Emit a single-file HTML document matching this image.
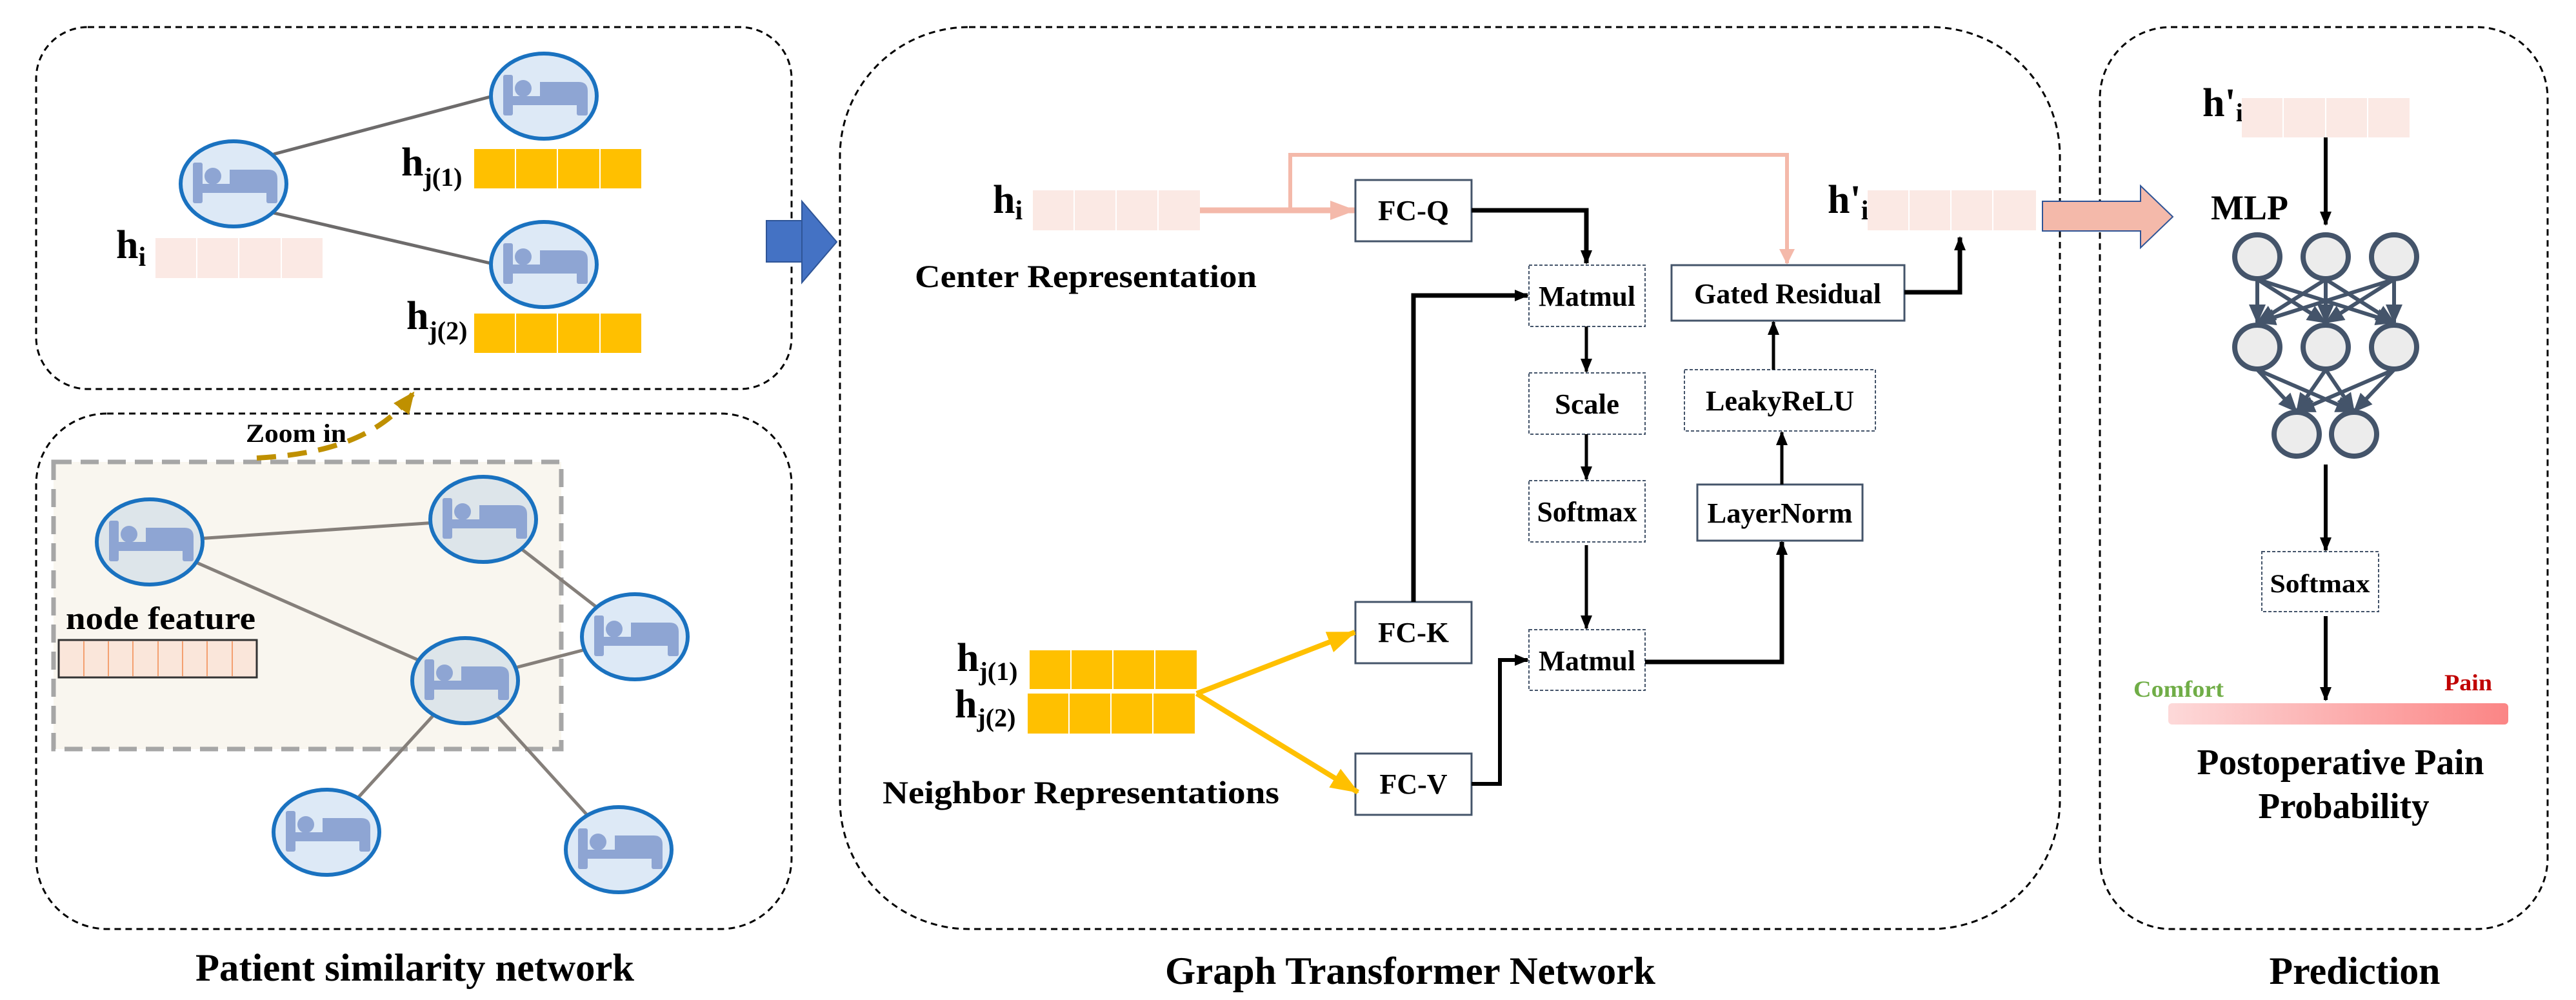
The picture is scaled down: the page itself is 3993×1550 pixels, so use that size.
<!DOCTYPE html>
<html><head><meta charset="utf-8"><style>
html,body{margin:0;padding:0;background:#fff}
svg{display:block}
text{font-family:"Liberation Serif",serif;font-weight:bold;fill:#000}
</style></head><body>
<svg width="3993" height="1550" viewBox="0 0 3993 1550" xmlns="http://www.w3.org/2000/svg">
<defs>
<g id="node">
<ellipse cx="0" cy="0" rx="82" ry="66" fill="#dde9f6" stroke="#1a72c0" stroke-width="6"/>
<g fill="#8ea5d3">
<rect x="-63" y="-33" width="15" height="63" rx="3"/>
<circle cx="-32" cy="-12" r="13"/>
<path d="M-6,-22 H54 Q68,-22 68,-8 V0 H-6 Z"/>
<rect x="-48" y="0" width="116" height="14"/>
<rect x="51" y="0" width="17" height="30" rx="3"/>
</g>
</g>
<g id="gnode">
<ellipse cx="0" cy="0" rx="82" ry="66" fill="#dde5ea" stroke="#1a72c0" stroke-width="6"/>
<g fill="#8ea5d3">
<rect x="-63" y="-33" width="15" height="63" rx="3"/>
<circle cx="-32" cy="-12" r="13"/>
<path d="M-6,-22 H54 Q68,-22 68,-8 V0 H-6 Z"/>
<rect x="-48" y="0" width="116" height="14"/>
<rect x="51" y="0" width="17" height="30" rx="3"/>
</g>
</g>
<marker id="abk" markerWidth="22" markerHeight="22" refX="20" refY="11" orient="auto" markerUnits="userSpaceOnUse"><path d="M0,2 L22,11 L0,20 Z" fill="#000"/></marker>
<marker id="apk" markerWidth="40" markerHeight="30" refX="38" refY="15" orient="auto" markerUnits="userSpaceOnUse"><path d="M0,0 L40,15 L0,30 Z" fill="#f4b9aa"/></marker>
<marker id="apk2" markerWidth="24" markerHeight="30" refX="22" refY="12" orient="auto" markerUnits="userSpaceOnUse"><path d="M0,0 L24,12 L0,24 Z" fill="#f4b9aa"/></marker>
<marker id="ayl" markerWidth="44" markerHeight="34" refX="42" refY="17" orient="auto" markerUnits="userSpaceOnUse"><path d="M0,0 L44,17 L0,34 Z" fill="#ffc000"/></marker>
<marker id="agd" markerWidth="34" markerHeight="30" refX="30" refY="15" orient="auto" markerUnits="userSpaceOnUse"><path d="M0,0 L34,15 L0,30 Z" fill="#bf9000"/></marker>
<marker id="anet" markerWidth="30" markerHeight="26" refX="28" refY="13" orient="auto" markerUnits="userSpaceOnUse"><path d="M0,0 L30,13 L0,26 Z" fill="#44546a"/></marker>
<linearGradient id="pg" x1="0" x2="1"><stop offset="0" stop-color="#fdd9d9"/><stop offset="1" stop-color="#fb8585"/></linearGradient>
</defs>

<!-- LEFT PANEL -->
<rect x="56" y="42" width="1171" height="561" rx="80" fill="none" stroke="#000" stroke-width="3" stroke-dasharray="10,7"/>
<rect x="56" y="641" width="1171" height="799" rx="110" fill="none" stroke="#000" stroke-width="3" stroke-dasharray="10,7"/>
<line x1="424" y1="239" x2="760" y2="150" stroke="#6d6b6b" stroke-width="5"/>
<line x1="424" y1="330" x2="760" y2="408" stroke="#6d6b6b" stroke-width="5"/>
<use href="#node" x="362" y="285"/>
<use href="#node" x="843" y="149"/>
<use href="#node" x="843" y="410"/>
<text x="180" y="400" font-size="62">h<tspan font-size="42" dy="12">i</tspan></text>
<g fill="#fbe9e4"><rect x="241" y="369" width="63" height="62"/><rect x="306" y="369" width="63" height="62"/><rect x="371" y="369" width="64" height="62"/><rect x="437" y="369" width="63" height="62"/></g>
<text x="622" y="272" font-size="62">h<tspan font-size="40" dy="16">j(1)</tspan></text>
<g fill="#ffc000"><rect x="735" y="231" width="63" height="61"/><rect x="800" y="231" width="63" height="61"/><rect x="865" y="231" width="64" height="61"/><rect x="931" y="231" width="63" height="61"/></g>
<text x="630" y="510" font-size="62">h<tspan font-size="40" dy="16">j(2)</tspan></text>
<g fill="#ffc000"><rect x="735" y="486" width="63" height="61"/><rect x="800" y="486" width="63" height="61"/><rect x="865" y="486" width="64" height="61"/><rect x="931" y="486" width="63" height="61"/></g>
<rect x="1188" y="342" width="55" height="64" fill="#4472c4" stroke="#2f5597" stroke-width="2"/>
<path d="M1243,312 L1297,375 L1243,438 Z" fill="#4472c4" stroke="#2f5597" stroke-width="2"/>

<rect x="83" y="716" width="787" height="445" fill="#f9f6ef" stroke="#a6a6a6" stroke-width="7" stroke-dasharray="28,14"/>
<g stroke="#857f7a" stroke-width="5">
<line x1="232" y1="840" x2="749" y2="805"/>
<line x1="232" y1="840" x2="721" y2="1055"/>
<line x1="749" y1="805" x2="984" y2="987"/>
<line x1="984" y1="987" x2="721" y2="1055"/>
<line x1="721" y1="1055" x2="506" y2="1290"/>
<line x1="721" y1="1055" x2="959" y2="1317"/>
</g>
<use href="#gnode" x="232" y="840"/>
<use href="#gnode" x="749" y="805"/>
<use href="#node" x="984" y="987"/>
<use href="#gnode" x="721" y="1055"/>
<use href="#node" x="506" y="1290"/>
<use href="#node" x="959" y="1317"/>
<text x="102" y="975" font-size="50" fill="#222" textLength="294" lengthAdjust="spacingAndGlyphs">node feature</text>
<rect x="91" y="992" width="307" height="58" fill="#fae6da" stroke="#333" stroke-width="3"/>
<g stroke="#f4a070" stroke-width="2"><line x1="130" y1="994" x2="130" y2="1048"/><line x1="168" y1="994" x2="168" y2="1048"/><line x1="206" y1="994" x2="206" y2="1048"/><line x1="245" y1="994" x2="245" y2="1048"/><line x1="283" y1="994" x2="283" y2="1048"/><line x1="321" y1="994" x2="321" y2="1048"/><line x1="360" y1="994" x2="360" y2="1048"/></g>
<text x="381" y="685" font-size="40" fill="#222" textLength="156" lengthAdjust="spacingAndGlyphs">Zoom in</text>
<path d="M398,710 C480,705 580,690 640,610" fill="none" stroke="#bf9000" stroke-width="8" stroke-dasharray="30,18" marker-end="url(#agd)"/>
<text x="643" y="1520" font-size="60" text-anchor="middle" textLength="680" lengthAdjust="spacingAndGlyphs">Patient similarity network</text>

<!-- MIDDLE PANEL -->
<rect x="1302" y="42" width="1891" height="1398" rx="200" fill="none" stroke="#000" stroke-width="3" stroke-dasharray="10,7"/>
<text x="1539" y="330" font-size="62">h<tspan font-size="42" dy="10">i</tspan></text>
<g fill="#fbe9e4"><rect x="1601" y="295" width="63" height="62"/><rect x="1666" y="295" width="63" height="62"/><rect x="1731" y="295" width="63" height="62"/><rect x="1796" y="295" width="64" height="62"/></g>
<text x="1418" y="445" font-size="50" textLength="530" lengthAdjust="spacingAndGlyphs">Center Representation</text>
<text x="2833" y="330" font-size="62">h'<tspan font-size="42" dy="10">i</tspan></text>
<g fill="#fbe9e4"><rect x="2895" y="295" width="63" height="62"/><rect x="2960" y="295" width="63" height="62"/><rect x="3025" y="295" width="63" height="62"/><rect x="3090" y="295" width="66" height="62"/></g>

<line x1="1860" y1="326" x2="2100" y2="326" stroke="#f4b9aa" stroke-width="9" marker-end="url(#apk)"/>
<polyline points="2000,326 2000,240 2770,240 2770,408" fill="none" stroke="#f4b9aa" stroke-width="6" marker-end="url(#apk2)"/>

<g font-size="44" text-anchor="middle">
<rect x="2101" y="279" width="180" height="95" fill="#fff" stroke="#44546a" stroke-width="3"/>
<text x="2191" y="341" textLength="110" lengthAdjust="spacingAndGlyphs">FC-Q</text>
<rect x="2101" y="933" width="180" height="95" fill="#fff" stroke="#44546a" stroke-width="3"/>
<text x="2191" y="995" textLength="110" lengthAdjust="spacingAndGlyphs">FC-K</text>
<rect x="2101" y="1168" width="180" height="95" fill="#fff" stroke="#44546a" stroke-width="3"/>
<text x="2191" y="1230" textLength="105" lengthAdjust="spacingAndGlyphs">FC-V</text>
<rect x="2370" y="411" width="180" height="95" fill="#fff" stroke="#44546a" stroke-width="2" stroke-dasharray="5,3"/>
<text x="2460" y="474" textLength="150" lengthAdjust="spacingAndGlyphs">Matmul</text>
<rect x="2370" y="578" width="180" height="95" fill="#fff" stroke="#44546a" stroke-width="2" stroke-dasharray="5,3"/>
<text x="2460" y="641" textLength="100" lengthAdjust="spacingAndGlyphs">Scale</text>
<rect x="2370" y="745" width="180" height="95" fill="#fff" stroke="#44546a" stroke-width="2" stroke-dasharray="5,3"/>
<text x="2460" y="808" textLength="155" lengthAdjust="spacingAndGlyphs">Softmax</text>
<rect x="2370" y="976" width="180" height="94" fill="#fff" stroke="#44546a" stroke-width="2" stroke-dasharray="5,3"/>
<text x="2460" y="1039" textLength="150" lengthAdjust="spacingAndGlyphs">Matmul</text>
<rect x="2591" y="411" width="361" height="86" fill="#fff" stroke="#44546a" stroke-width="3"/>
<text x="2771" y="470" textLength="290" lengthAdjust="spacingAndGlyphs">Gated Residual</text>
<rect x="2611" y="573" width="296" height="95" fill="#fff" stroke="#44546a" stroke-width="2" stroke-dasharray="5,3"/>
<text x="2759" y="636" textLength="230" lengthAdjust="spacingAndGlyphs">LeakyReLU</text>
<rect x="2631" y="751" width="256" height="87" fill="#fff" stroke="#44546a" stroke-width="3"/>
<text x="2759" y="810" textLength="225" lengthAdjust="spacingAndGlyphs">LayerNorm</text>
</g>

<g fill="none" stroke="#000" stroke-width="7">
<polyline points="2281,326 2459,326 2459,408" marker-end="url(#abk)"/>
<polyline points="2191,933 2191,458 2368,458" marker-end="url(#abk)"/>
<line x1="2459" y1="506" x2="2459" y2="576" stroke-width="5" marker-end="url(#abk)"/>
<line x1="2459" y1="673" x2="2459" y2="743" stroke-width="5" marker-end="url(#abk)"/>
<line x1="2459" y1="845" x2="2459" y2="974" stroke-width="5" marker-end="url(#abk)"/>
<polyline points="2281,1215 2325,1215 2325,1023 2368,1023" stroke-width="6" marker-end="url(#abk)"/>
<polyline points="2550,1026 2762,1026 2762,840" marker-end="url(#abk)"/>
<line x1="2762" y1="751" x2="2762" y2="670" stroke-width="5" marker-end="url(#abk)"/>
<line x1="2749" y1="573" x2="2749" y2="499" stroke-width="5" marker-end="url(#abk)"/>
<polyline points="2952,453 3038,453 3038,368" marker-end="url(#abk)"/>
</g>

<text x="1483" y="1040" font-size="62">h<tspan font-size="40" dy="14">j(1)</tspan></text>
<g fill="#ffc000"><rect x="1596" y="1008" width="63" height="60"/><rect x="1661" y="1008" width="63" height="60"/><rect x="1726" y="1008" width="63" height="60"/><rect x="1791" y="1008" width="64" height="60"/></g>
<text x="1480" y="1112" font-size="62">h<tspan font-size="40" dy="14">j(2)</tspan></text>
<g fill="#ffc000"><rect x="1593" y="1075" width="63" height="62"/><rect x="1658" y="1075" width="63" height="62"/><rect x="1723" y="1075" width="63" height="62"/><rect x="1788" y="1075" width="64" height="62"/></g>
<g stroke="#ffc000" stroke-width="8" fill="none">
<line x1="1855" y1="1075" x2="2100" y2="980" marker-end="url(#ayl)"/>
<line x1="1855" y1="1075" x2="2105" y2="1228" marker-end="url(#ayl)"/>
</g>
<text x="1368" y="1245" font-size="50" textLength="615" lengthAdjust="spacingAndGlyphs">Neighbor Representations</text>
<text x="2186" y="1525" font-size="60" text-anchor="middle" textLength="760" lengthAdjust="spacingAndGlyphs">Graph Transformer Network</text>

<!-- RIGHT PANEL -->
<rect x="3255" y="42" width="694" height="1398" rx="110" fill="none" stroke="#000" stroke-width="3" stroke-dasharray="10,7"/>
<path d="M3166,312 L3318,312 L3318,288 L3368,336 L3318,384 L3318,358 L3166,358 Z" fill="#f4b9aa" stroke="#2f5597" stroke-width="2"/>
<text x="3414" y="180" font-size="62">h'<tspan font-size="40" dy="8">i</tspan></text>
<g fill="#fbe9e4"><rect x="3475" y="152" width="63" height="61"/><rect x="3540" y="152" width="64" height="61"/><rect x="3606" y="152" width="63" height="61"/><rect x="3671" y="152" width="64" height="61"/></g>
<line x1="3605" y1="213" x2="3605" y2="348" stroke="#000" stroke-width="6" marker-end="url(#abk)"/>
<text x="3427" y="340" font-size="54" textLength="120" lengthAdjust="spacingAndGlyphs">MLP</text>
<g stroke="#44546a" stroke-width="6" fill="none">
<line x1="3499" y1="433" x2="3499" y2="500" marker-end="url(#anet)"/>
<line x1="3499" y1="433" x2="3605" y2="500" marker-end="url(#anet)"/>
<line x1="3499" y1="433" x2="3711" y2="500" marker-end="url(#anet)"/>
<line x1="3605" y1="433" x2="3499" y2="500" marker-end="url(#anet)"/>
<line x1="3605" y1="433" x2="3605" y2="500" marker-end="url(#anet)"/>
<line x1="3605" y1="433" x2="3711" y2="500" marker-end="url(#anet)"/>
<line x1="3711" y1="433" x2="3499" y2="500" marker-end="url(#anet)"/>
<line x1="3711" y1="433" x2="3605" y2="500" marker-end="url(#anet)"/>
<line x1="3711" y1="433" x2="3711" y2="500" marker-end="url(#anet)"/>
<line x1="3499" y1="573" x2="3560" y2="638" marker-end="url(#anet)"/>
<line x1="3499" y1="573" x2="3649" y2="638" marker-end="url(#anet)"/>
<line x1="3605" y1="573" x2="3560" y2="638" marker-end="url(#anet)"/>
<line x1="3605" y1="573" x2="3649" y2="638" marker-end="url(#anet)"/>
<line x1="3711" y1="573" x2="3560" y2="638" marker-end="url(#anet)"/>
<line x1="3711" y1="573" x2="3649" y2="638" marker-end="url(#anet)"/>
</g>
<g fill="#ececec" stroke="#44546a" stroke-width="8">
<ellipse cx="3499" cy="398" rx="35" ry="34"/><ellipse cx="3605" cy="398" rx="35" ry="34"/><ellipse cx="3711" cy="398" rx="35" ry="34"/>
<ellipse cx="3499" cy="538" rx="35" ry="34"/><ellipse cx="3605" cy="538" rx="35" ry="34"/><ellipse cx="3711" cy="538" rx="35" ry="34"/>
<ellipse cx="3560" cy="673" rx="35" ry="34"/><ellipse cx="3649" cy="673" rx="35" ry="34"/>
</g>
<line x1="3605" y1="720" x2="3605" y2="853" stroke="#000" stroke-width="6" marker-end="url(#abk)"/>
<rect x="3506" y="855" width="181" height="93" fill="#fff" stroke="#44546a" stroke-width="2" stroke-dasharray="5,3"/>
<text x="3596" y="918" font-size="40" text-anchor="middle" textLength="155" lengthAdjust="spacingAndGlyphs">Softmax</text>
<line x1="3605" y1="955" x2="3605" y2="1085" stroke="#000" stroke-width="6" marker-end="url(#abk)"/>
<text x="3307" y="1080" font-size="36" style="fill:#70ad47" textLength="140" lengthAdjust="spacingAndGlyphs">Comfort</text>
<text x="3789" y="1070" font-size="36" style="fill:#c00000" textLength="74" lengthAdjust="spacingAndGlyphs">Pain</text>
<rect x="3361" y="1090" width="527" height="33" rx="6" fill="url(#pg)"/>
<text x="3628" y="1200" font-size="56" text-anchor="middle" textLength="445" lengthAdjust="spacingAndGlyphs">Postoperative Pain</text>
<text x="3633" y="1268" font-size="56" text-anchor="middle" textLength="265" lengthAdjust="spacingAndGlyphs">Probability</text>
<text x="3650" y="1525" font-size="60" text-anchor="middle" textLength="265" lengthAdjust="spacingAndGlyphs">Prediction</text>
</svg>
</body></html>
